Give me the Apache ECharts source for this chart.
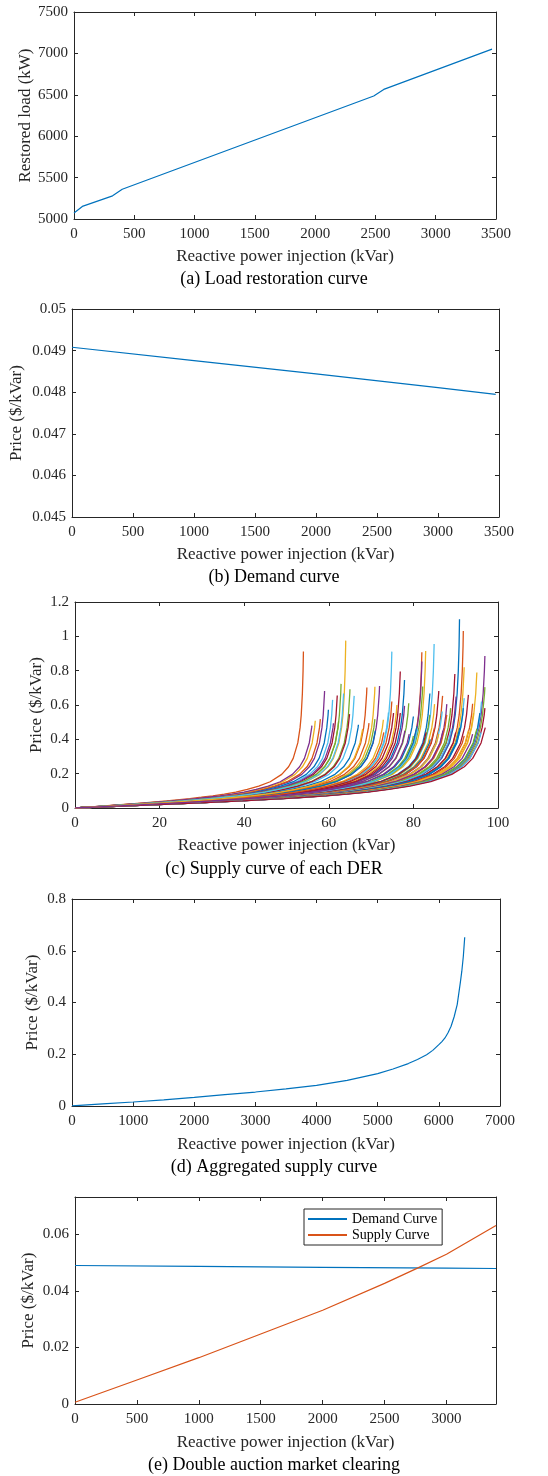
<!DOCTYPE html>
<html>
<head>
<meta charset="utf-8">
<title>Reactive power market curves</title>
<script src="https://cdn.jsdelivr.net/npm/echarts@6/dist/echarts.min.js"></script>
<style>
html, body { margin: 0; padding: 0; background: #fff; }
#main { width: 548px; height: 1476px; }
</style>
</head>
<body>
<div id="main"></div>
<script>
// (a) load restoration curve
var loadQ = [0, 69, 320, 400, 2486, 2569, 3467];
var loadKW = [5072, 5152, 5280, 5360, 6485, 6565, 7051];

// (b) demand curve
var demandQ = [0, 1000, 2000, 3000, 3473];
var demandPrice = [0.04908, 0.04876, 0.04844, 0.04811, 0.04795];

// (c) supply curve of each DER: top point of every curve (x, price)
var derEnd = [54.0, 64.0, 59.0, 62.9, 60.9, 62.0, 59.9, 58.0, 56.8, 56.0,
              65.0, 66.0, 64.9, 67.0, 69.0, 70.9, 72.0, 70.9, 74.9, 76.9,
              77.9, 74.9, 76.1, 77.9, 78.9, 74.1, 76.9, 80.0, 82.0, 82.9,
              82.0, 82.2, 84.9, 86.0, 83.9, 86.9, 85.0, 87.9, 83.9, 86.8,
              89.8, 90.9, 91.8, 92.0, 90.1, 88.8, 92.0, 93.0, 91.8, 94.0,
              95.0, 96.9, 96.9, 96.1, 96.9, 95.7, 69.5, 72.9, 61.1, 62.3,
              63.5, 75.3, 80.8, 87.9, 94.2,
              78, 80, 81, 83, 84, 85, 86, 87, 88, 89,
              90, 91, 92, 93, 94, 95, 96, 97, 71, 73, 68, 79];
var derPeak = [0.911, 0.975, 0.682, 0.723, 0.630, 0.655, 0.572, 0.518, 0.508, 0.480,
               0.692, 0.653, 0.547, 0.485, 0.702, 0.706, 0.711, 0.518, 0.911, 0.795,
               0.746, 0.620, 0.600, 0.595, 0.610, 0.556, 0.553, 0.533, 0.907, 0.915,
               0.853, 0.708, 0.956, 0.682, 0.669, 0.653, 0.605, 0.605, 0.543, 0.562,
               0.781, 1.099, 1.031, 0.820, 0.649, 0.582, 0.640, 0.659, 0.582, 0.607,
               0.789, 0.886, 0.704, 0.620, 0.582, 0.553, 0.494, 0.514, 0.494, 0.504,
               0.669, 0.553, 0.475, 0.543, 0.553,
               0.45, 0.42, 0.46, 0.44, 0.40, 0.47, 0.43, 0.45, 0.41, 0.46,
               0.44, 0.47, 0.42, 0.45, 0.43, 0.46, 0.44, 0.47, 0.45, 0.44, 0.46, 0.43];
// common shape of the curves: fraction of the capacity and price
var shapeFrac = [0, 0.1, 0.2, 0.3, 0.4, 0.5, 0.55, 0.6, 0.65, 0.7, 0.75, 0.8, 0.85, 0.9,
                 0.93, 0.95, 0.97, 0.98, 0.985, 0.99, 0.993, 0.995, 0.997];
var shapePrice = [0, 0.0095, 0.0194, 0.030, 0.041, 0.055, 0.0626, 0.071, 0.081, 0.093, 0.108, 0.127, 0.153, 0.196,
                  0.240, 0.289, 0.379, 0.468, 0.542, 0.667, 0.799, 0.946, 1.224];

// (d) aggregated supply curve
var aggQ = [0, 500, 1000, 1500, 2000, 2500, 3000, 3500, 4000, 4500, 5000, 5250, 5500, 5650, 5800, 5900,
            6000, 6050, 6100, 6150, 6200, 6250, 6300, 6350, 6375, 6400, 6410, 6423];
var aggPrice = [0.0006, 0.008, 0.0155, 0.024, 0.0335, 0.044, 0.054, 0.066, 0.080, 0.099, 0.125, 0.143, 0.164, 0.180, 0.198, 0.215,
                0.237, 0.249, 0.263, 0.283, 0.308, 0.345, 0.392, 0.475, 0.52, 0.578, 0.61, 0.652];

// (e) double auction market clearing
var clearDemQ = [0, 1000, 2000, 3000, 3400];
var clearDemPrice = [0.04904, 0.04872, 0.04840, 0.04809, 0.04798];
var clearSupQ = [0, 500, 1000, 1500, 2000, 2500, 2770, 3000, 3400];
var clearSupPrice = [0.0006, 0.0085, 0.0164, 0.0248, 0.0332, 0.0427, 0.0482, 0.0530, 0.0632];

var captions = ['(a) Load restoration curve', '(b) Demand curve', '(c) Supply curve of each DER',
                '(d) Aggregated supply curve', '(e) Double auction market clearing'];

var FONT = '"Liberation Serif", "Times New Roman", serif';
var INK = '#262626';
var COLORS = ['#0072BD', '#D95319', '#EDB120', '#7E2F8E', '#77AC30', '#4DBEEE', '#A2142F'];
var XNAME = 'Reactive power injection (kVar)';

function pairs(xs, ys) {
    var out = [];
    for (var i = 0; i < xs.length; i++) out.push([xs[i], ys[i]]);
    return out;
}

function axisBase(gi, min, max, step) {
    return {
        type: 'value', gridIndex: gi, min: min, max: max, interval: step,
        splitLine: { show: false },
        axisLine: { show: true, onZero: false, lineStyle: { color: INK, width: 1 } },
        axisTick: { show: true, inside: true, length: 4, lineStyle: { color: INK } }
    };
}
function plain(v) { return String(v); }

var xAxis = [], yAxis = [];
function addX(gi, min, max, step, gap, hideMax) {
    var b = axisBase(gi, min, max, step);
    b.position = 'bottom';
    b.name = XNAME; b.nameLocation = 'middle'; b.nameGap = gap; b.nameMoveOverlap = false;
    b.nameTextStyle = { fontFamily: FONT, fontSize: 17, color: INK };
    b.axisLabel = { fontFamily: FONT, fontSize: 15, color: INK, margin: 8, formatter: plain };
    if (hideMax) b.axisLabel.showMaxLabel = false;
    var t = axisBase(gi, min, max, step);
    t.position = 'top';
    t.axisLabel = { show: false };
    xAxis.push(b, t);
}
function addY(gi, min, max, step, name, gap, hideMax) {
    var l = axisBase(gi, min, max, step);
    l.position = 'left';
    l.name = name; l.nameLocation = 'middle'; l.nameGap = gap; l.nameMoveOverlap = false;
    l.nameTextStyle = { fontFamily: FONT, fontSize: 17, color: INK };
    l.axisLabel = { fontFamily: FONT, fontSize: 15, color: INK, margin: 6, formatter: plain };
    if (hideMax) l.axisLabel.showMaxLabel = false;
    var r = axisBase(gi, min, max, step);
    r.position = 'right';
    r.axisLabel = { show: false };
    yAxis.push(l, r);
}

addX(0, 0, 3500, 500, 29);
addY(0, 5000, 7500, 500, 'Restored load (kW)', 40);
addX(1, 0, 3500, 500, 29);
addY(1, 0.045, 0.05, 0.001, 'Price ($/kVar)', 47);
addX(2, 0, 100, 20, 29);
addY(2, 0, 1.2, 0.2, 'Price ($/kVar)', 30);
addX(3, 0, 7000, 1000, 30);
addY(3, 0, 0.8, 0.2, 'Price ($/kVar)', 31);
addX(4, 0, 3400, 500, 30, true);
addY(4, 0, 0.0733, 0.02, 'Price ($/kVar)', 38, true);

function lineSeries(gi, data, color, name) {
    return {
        type: 'line', name: name, xAxisIndex: gi * 2, yAxisIndex: gi * 2,
        data: data, showSymbol: false, symbol: 'none', clip: true,
        lineStyle: { color: color, width: 1.2 }, itemStyle: { color: color }
    };
}

// fraction of capacity where the common shape reaches a given price
function tipFrac(peak) {
    for (var j = 1; j < shapePrice.length; j++) {
        if (shapePrice[j] >= peak) {
            var t = (peak - shapePrice[j - 1]) / (shapePrice[j] - shapePrice[j - 1]);
            return shapeFrac[j - 1] + t * (shapeFrac[j] - shapeFrac[j - 1]);
        }
    }
    return 1;
}

var series = [];
series.push(lineSeries(0, pairs(loadQ, loadKW), COLORS[0]));
series.push(lineSeries(1, pairs(demandQ, demandPrice), COLORS[0]));
for (var k = 0; k < derEnd.length; k++) {
    var ft = tipFrac(derPeak[k]);
    var pts = [];
    for (var j = 0; j < shapeFrac.length; j++) {
        if (shapePrice[j] < derPeak[k]) pts.push([derEnd[k] * shapeFrac[j] / ft, shapePrice[j]]);
    }
    pts.push([derEnd[k], derPeak[k]]);
    var s = lineSeries(2, pts, COLORS[(k + 1) % COLORS.length]);
    s.lineStyle.width = 1.3;
    series.push(s);
}
series.push(lineSeries(3, pairs(aggQ, aggPrice), COLORS[0]));
series.push(lineSeries(4, pairs(clearDemQ, clearDemPrice), COLORS[0], 'Demand Curve'));
series.push(lineSeries(4, pairs(clearSupQ, clearSupPrice), COLORS[1], 'Supply Curve'));

var captionY = [270, 568, 860, 1158, 1456];
var title = captions.map(function (c, i) {
    return {
        text: c, left: 'center', top: captionY[i], padding: 0,
        textStyle: { fontFamily: FONT, fontSize: 18, fontWeight: 'normal', color: '#000' }
    };
});

var myChart = echarts.init(document.getElementById('main'));
myChart.setOption({
    animation: false,
    backgroundColor: '#fff',
    title: title,
    grid: [
        { left: 74, top: 12, width: 422, height: 207 },
        { left: 70, top: 309, width: 429, height: 208 },
        { left: 75, top: 602, width: 423, height: 206 },
        { left: 72, top: 899, width: 428, height: 207 },
        { left: 75, top: 1197, width: 421, height: 207 }
    ],
    legend: {
        data: ['Demand Curve', 'Supply Curve'],
        orient: 'vertical', left: 304, top: 1209,
        padding: [3, 5, 3, 4], itemGap: 2, itemWidth: 39, itemHeight: 2, icon: 'rect',
        backgroundColor: '#fff', borderColor: INK, borderWidth: 1,
        textStyle: { fontFamily: FONT, fontSize: 14, color: '#000' }
    },
    xAxis: xAxis,
    yAxis: yAxis,
    series: series
});
</script>
</body>
</html>
